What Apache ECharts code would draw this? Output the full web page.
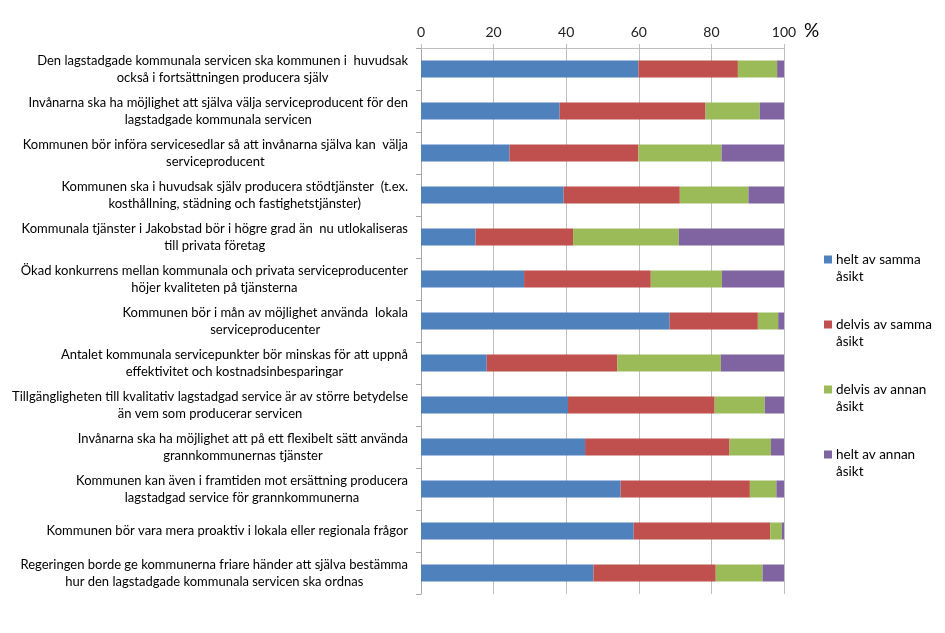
<!DOCTYPE html>
<html>
<head>
<meta charset="utf-8">
<script src="https://cdn.jsdelivr.net/npm/echarts@6/dist/echarts.min.js"></script>
<style>html,body{margin:0;padding:0;background:#fff}#chart{width:945px;height:633px}</style>
</head>
<body>
<div id="chart"></div>
<script>
const categories = [
  "Den lagstadgade kommunala servicen ska kommunen i  huvudsak\nockså i fortsättningen producera själv",
  "Invånarna ska ha möjlighet att själva välja serviceproducent för den\nlagstadgade kommunala servicen",
  "Kommunen bör införa servicesedlar så att invånarna själva kan  välja\nserviceproducent",
  "Kommunen ska i huvudsak själv producera stödtjänster  (t.ex.\nkosthållning, städning och fastighetstjänster)",
  "Kommunala tjänster i Jakobstad bör i högre grad än  nu utlokaliseras\ntill privata företag",
  "Ökad konkurrens mellan kommunala och privata serviceproducenter\nhöjer kvaliteten på tjänsterna",
  "Kommunen bör i mån av möjlighet använda  lokala\nserviceproducenter",
  "Antalet kommunala servicepunkter bör minskas för att uppnå\neffektivitet och kostnadsinbesparingar",
  "Tillgängligheten till kvalitativ lagstadgad service är av större betydelse\nän vem som producerar servicen",
  "Invånarna ska ha möjlighet att på ett flexibelt sätt använda\ngrannkommunernas tjänster",
  "Kommunen kan även i framtiden mot ersättning producera\nlagstadgad service för grannkommunerna",
  "Kommunen bör vara mera proaktiv i lokala eller regionala frågor",
  "Regeringen borde ge kommunerna friare händer att själva bestämma\nhur den lagstadgade kommunala servicen ska ordnas"
];
const seriesNames = ["helt av samma åsikt", "delvis av samma åsikt", "delvis av annan åsikt", "helt av annan åsikt"];
const legendLabels = ["helt av samma\nåsikt", "delvis av samma\nåsikt", "delvis av annan\nåsikt", "helt av annan\nåsikt"];
const heltSamma   = [59.9, 38.2, 24.4, 39.3, 15.0, 28.4, 68.5, 18.1, 40.5, 45.2, 55.0, 58.6, 47.5];
const delvisSamma = [27.4, 40.2, 35.5, 32.0, 26.9, 34.9, 24.3, 36.0, 40.4, 39.8, 35.6, 37.6, 33.7];
const delvisAnnan = [10.8, 14.9, 22.9, 18.9, 29.1, 19.6, 5.6, 28.5, 13.8, 11.4, 7.3, 3.2, 12.9];
const heltAnnan   = [1.9, 6.7, 17.2, 9.8, 29.0, 17.1, 1.6, 17.4, 5.3, 3.6, 2.1, 0.6, 5.9];
const xTicks = [0, 20, 40, 60, 80, 100];
const colors = ["#4F81BD", "#C0504D", "#9BBB59", "#8064A2"];

const FONT = "Lato, 'Open Sans', sans-serif";
const chart = echarts.init(document.getElementById('chart'));
const values = [heltSamma, delvisSamma, delvisAnnan, heltAnnan];
const option = {
  animation: false,
  color: colors,
  textStyle: { fontFamily: FONT },
  grid: { left: 421, right: 161, top: 48, bottom: 39, containLabel: false, outerBoundsMode: 'none' },
  legend: {
    orient: 'vertical',
    left: 819,
    top: 229,
    itemWidth: 8,
    itemHeight: 8,
    itemGap: 14,
    icon: 'rect',
    data: seriesNames,
    formatter: function (name) { return '\n' + legendLabels[seriesNames.indexOf(name)]; },
    textStyle: { fontFamily: FONT, fontSize: 13.5, color: '#000', lineHeight: 17, padding: [0, 0, 0, -1] }
  },
  xAxis: {
    type: 'value',
    position: 'top',
    min: xTicks[0],
    max: xTicks[xTicks.length - 1],
    interval: 20,
    name: '%',
    nameLocation: 'end',
    nameGap: 20,
    nameTextStyle: { fontFamily: FONT, fontSize: 19, color: '#000', verticalAlign: 'bottom', padding: [0, 0, 8, 0] },
    axisLine: { show: true, lineStyle: { color: '#BFBFBF', width: 1 } },
    axisTick: { show: true, length: 4, lineStyle: { color: '#BFBFBF' } },
    splitLine: { show: true, lineStyle: { color: '#BFBFBF', width: 1 } },
    axisLabel: { margin: 9, fontFamily: FONT, fontSize: 14, color: '#222' }
  },
  yAxis: {
    type: 'category',
    inverse: true,
    data: categories,
    axisLine: { show: true, lineStyle: { color: '#A6A6A6' } },
    axisTick: { show: true, length: 5, lineStyle: { color: '#A6A6A6' } },
    axisLabel: {
      margin: 13,
      color: '#000',
      formatter: function (v) { return v.split('\n').map(function (s) { return '{c|' + s + '}'; }).join('\n'); },
      rich: { c: { align: 'center', fontFamily: FONT, fontSize: 13, lineHeight: 17, color: '#000' } }
    }
  },
  series: seriesNames.map(function (n, i) {
    return {
      name: n, type: 'bar', stack: 'total', barWidth: 17,
      data: values[i],
      itemStyle: { color: colors[i] }
    };
  })
};
chart.setOption(option);
</script>
</body>
</html>
